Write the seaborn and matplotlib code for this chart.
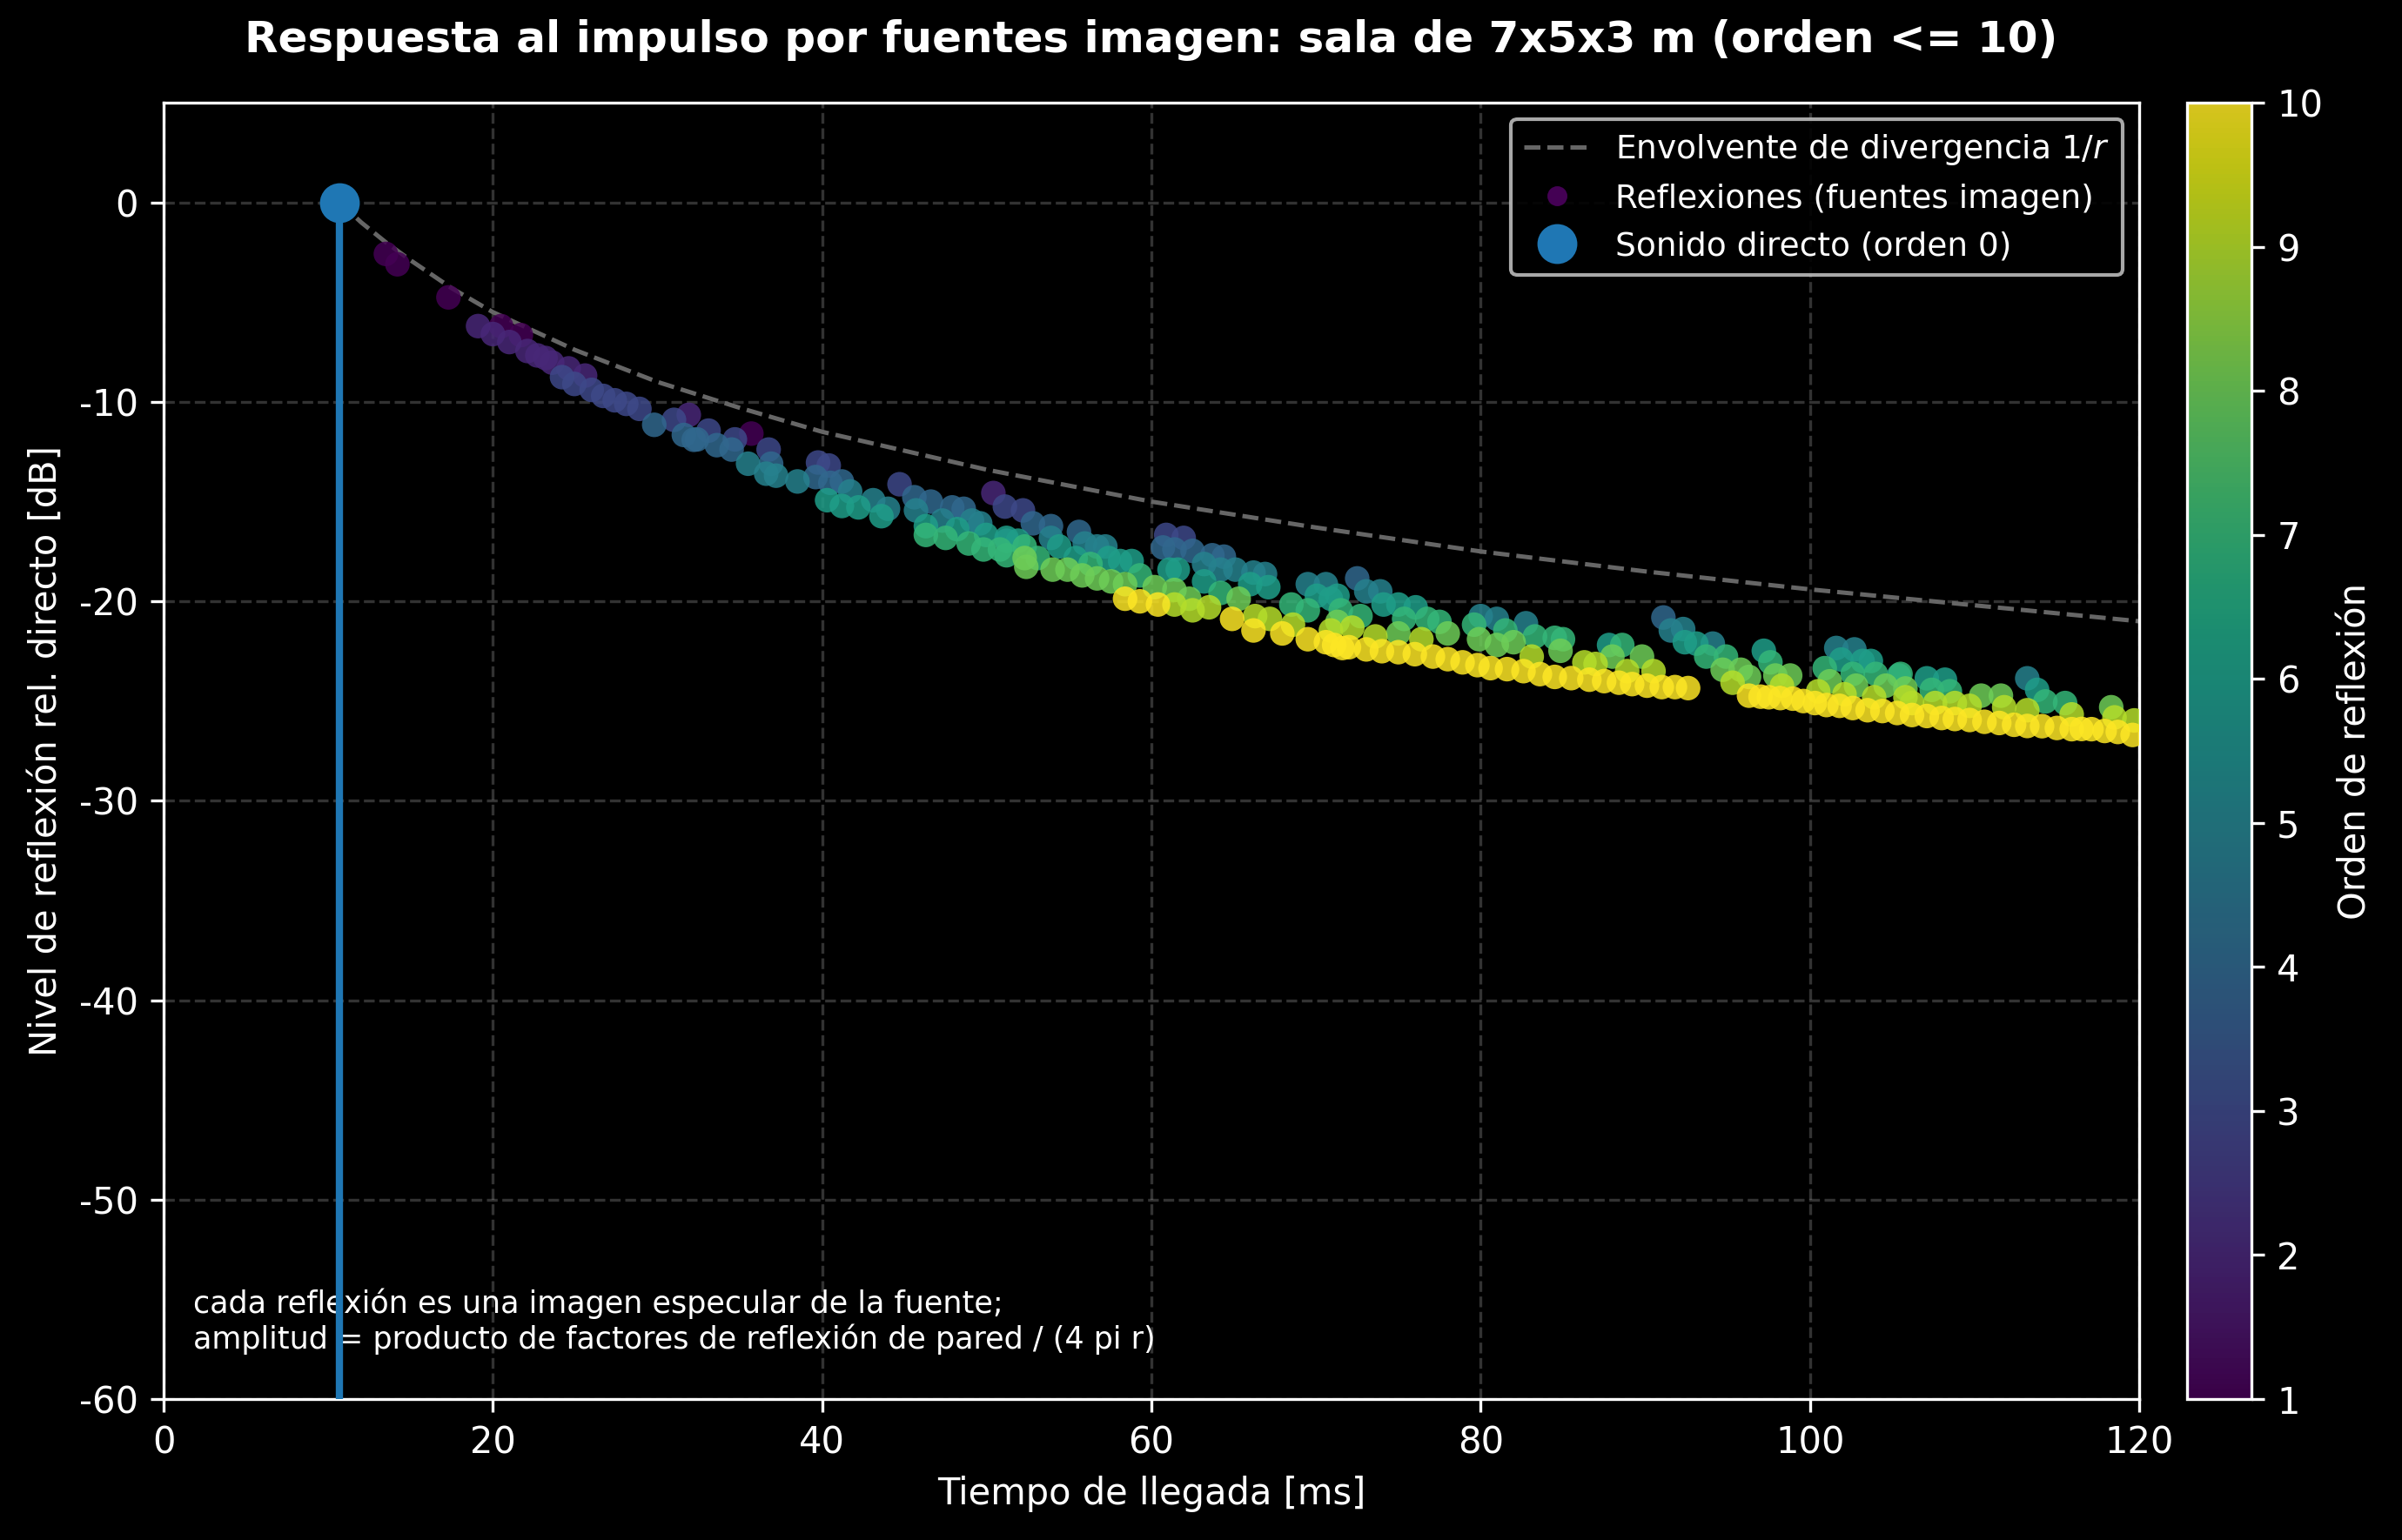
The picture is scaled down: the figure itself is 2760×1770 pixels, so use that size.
import numpy as np
import pandas as pd
import matplotlib
matplotlib.use("Agg")
import matplotlib.pyplot as plt
import seaborn as sns
from matplotlib.lines import Line2D

# direct sound
t_direct = 10.7
db_direct = 0.0

# 1/r envelope
env_t = [10.7, 12, 13.5, 15, 17.5, 20, 25, 30, 35, 40, 50, 60, 70, 80, 90, 100, 110, 120]
env_db = [0, -1.0, -2.0, -2.9, -4.3, -5.5, -7.4, -9.0, -10.3, -11.5, -13.4, -15.0,
          -16.3, -17.5, -18.5, -19.4, -20.2, -21.0]

# reflections, grouped by order: arrival time [ms], level [dB]
t_o1 = [13.5, 14.2, 17.3, 20.5, 21.7, 35.7]
db_o1 = [-2.58, -3.1, -4.76, -6.2, -6.65, -11.59]

t_o2 = [19.1, 20.0, 21.0, 22.1, 22.7, 23.2, 23.6, 24.6, 25.6, 31.9, 50.4]
db_o2 = [-6.2, -6.6, -7.0, -7.45, -7.67, -7.8, -8.03, -8.32, -8.68, -10.65, -14.57]

t_o3 = [24.2, 24.95, 26.0, 26.7, 27.4, 28.1, 28.9, 31.0, 33.1, 34.7, 36.75, 39.75,
        40.4, 44.7, 51.1, 52.2, 60.9, 61.96]
db_o3 = [-8.76, -9.1, -9.4, -9.7, -9.92, -10.1, -10.35, -10.9, -11.44, -11.88, -12.39, -13.04,
         -13.19, -14.13, -15.25, -15.44, -16.67, -16.82]

t_o4 = [29.8, 31.6, 32.2, 32.4, 33.6, 34.5, 36.9, 39.6, 40.5, 41.2, 45.6, 46.6, 47.9, 48.6,
        52.8, 53.9, 55.6, 60.7, 61.4, 62.5, 63.7, 64.4, 72.5, 91.1]
db_o4 = [-11.15, -11.66, -11.9, -11.88, -12.17, -12.39, -13.1, -13.77, -14.06, -13.99, -14.78, -15.0,
         -15.29, -15.36, -16.09, -16.23, -16.52, -17.3, -17.4, -17.47, -17.69, -17.76, -18.85, -20.81]

t_o5 = [35.5, 36.6, 37.2, 38.5, 41.7, 43.1, 44.0, 45.7, 47.3, 49.1, 49.6, 51.2, 53.9, 55.95,
        56.7, 57.2, 63.2, 64.2, 65.1, 66.2, 66.9, 69.5, 70.6, 73.05, 73.9, 80.0, 80.98, 82.75,
        91.55, 92.3, 94.1, 101.6, 102.7, 113.2]
db_o5 = [-13.1, -13.6, -13.7, -13.99, -14.49, -14.93, -15.36, -15.44, -15.95, -15.95, -16.09, -16.96,
         -16.82, -17.1, -17.25, -17.25, -18.13, -18.41, -18.41, -18.56, -18.63, -19.14, -19.14, -19.5,
         -19.5, -20.74, -20.88, -21.1, -21.46, -21.39, -22.12, -22.34, -22.41, -23.86]

t_o6 = [40.3, 41.2, 42.2, 43.6, 46.3, 48.2, 49.96, 51.2, 51.9, 54.4, 55.4, 57.4, 58.1, 58.8,
        61.1, 61.6, 63.2, 66.0, 67.1, 70.05, 70.9, 71.3, 74.1, 75.0, 76.05, 87.8, 92.4, 93.1,
        97.2, 101.9, 103.2, 103.7, 105.4, 107.1, 108.2, 113.8]
db_o6 = [-14.93, -15.22, -15.29, -15.73, -16.23, -16.38, -16.67, -16.82, -16.96, -17.25, -17.83, -17.83,
         -17.98, -17.98, -18.41, -18.41, -19.0, -19.14, -19.29, -19.72, -19.87, -19.72, -20.16, -20.16,
         -20.3, -22.19, -22.05, -22.12, -22.48, -22.92, -22.99, -22.99, -23.72, -23.86, -23.93, -24.44]

t_o7 = [46.3, 47.5, 48.9, 49.8, 50.8, 51.2, 52.3, 53.1, 56.3, 59.3, 64.2, 68.5, 69.5, 71.5,
        72.7, 75.35, 76.75, 77.5, 79.6, 81.5, 83.3, 84.5, 85.0, 88.6, 93.7, 94.9, 97.6, 100.9,
        102.6, 104.0, 105.5, 107.4, 108.5, 114.3, 115.5]
db_o7 = [-16.67, -16.82, -17.1, -17.4, -17.4, -17.69, -17.25, -17.83, -18.13, -18.7, -19.58, -20.16,
         -20.45, -20.45, -20.74, -20.88, -20.88, -21.03, -21.17, -21.46, -21.76, -21.83, -21.9, -22.19,
         -22.77, -22.77, -23.06, -23.35, -23.64, -23.64, -23.64, -24.44, -24.51, -25.02, -25.1]

t_o8 = [52.3, 52.4, 54.0, 54.9, 55.8, 56.7, 57.55, 58.4, 60.2, 61.4, 62.3, 65.3, 71.3, 75.0,
        78.0, 79.9, 80.98, 82.0, 84.85, 88.0, 89.8, 94.7, 95.8, 96.3, 97.9, 98.8, 101.2, 102.8,
        104.6, 105.8, 110.4, 111.6, 118.3]
db_o8 = [-17.83, -18.27, -18.41, -18.41, -18.7, -18.85, -19.0, -19.14, -19.29, -19.43, -19.87, -19.87,
         -21.03, -21.61, -21.61, -21.9, -22.19, -22.05, -22.48, -22.77, -22.77, -23.43, -23.43, -23.79,
         -23.72, -23.72, -24.01, -24.23, -24.23, -24.37, -24.73, -24.73, -25.31]

t_o9 = [61.4, 62.5, 63.5, 66.3, 67.2, 68.6, 70.9, 72.2, 73.6, 76.4, 83.1, 86.3, 86.98, 88.9,
        90.5, 95.3, 98.3, 100.5, 102.1, 103.9, 105.8, 106.2, 107.6, 108.8, 109.7, 111.8, 113.2,
        115.9, 118.5, 119.7]
db_o9 = [-20.16, -20.45, -20.3, -20.74, -20.88, -21.17, -21.46, -21.32, -21.76, -21.9, -22.77, -23.06,
         -23.14, -23.5, -23.5, -24.08, -24.23, -24.51, -24.66, -24.81, -24.81, -25.1, -25.1, -25.1,
         -25.24, -25.31, -25.46, -25.67, -25.82, -25.97]

t_o10 = [58.4, 59.3, 60.4, 64.9, 66.2, 67.95, 69.5, 70.6, 71.1, 71.6, 72.0, 73.05, 74.0, 75.0,
         76.0, 77.1, 78.0, 78.9, 79.8, 80.6, 81.6, 82.6, 83.6, 84.5, 85.5, 86.6, 87.5, 88.4,
         89.2, 90.1, 91.0, 91.8, 92.6, 96.3, 97.0, 97.5, 98.2, 98.96, 99.6, 100.3, 101.0, 101.8,
         102.6, 103.5, 104.4, 105.3, 106.2, 107.1, 108.0, 108.8, 109.7, 110.6, 111.5, 112.4,
         113.2, 114.1, 115.0, 115.9, 116.5, 117.1, 117.9, 118.7, 119.6]
db_o10 = [-19.87, -20.0, -20.16, -20.88, -21.46, -21.61, -21.9, -22.05, -22.19, -22.34, -22.3, -22.41,
          -22.5, -22.55, -22.65, -22.77, -22.9, -23.06, -23.2, -23.35, -23.4, -23.5, -23.65, -23.79,
          -23.85, -23.93, -24.0, -24.08, -24.15, -24.23, -24.3, -24.3, -24.35, -24.73, -24.78, -24.81,
          -24.85, -24.88, -25.0, -25.1, -25.2, -25.24, -25.35, -25.46, -25.5, -25.6, -25.7, -25.75,
          -25.85, -25.9, -25.95, -26.04, -26.1, -26.19, -26.25, -26.26, -26.35, -26.41, -26.4, -26.41,
          -26.5, -26.55, -26.7]

times = [t_o1, t_o2, t_o3, t_o4, t_o5, t_o6, t_o7, t_o8, t_o9, t_o10]
levels = [db_o1, db_o2, db_o3, db_o4, db_o5, db_o6, db_o7, db_o8, db_o9, db_o10]

rows = []
for k, (tt, dd) in enumerate(zip(times, levels), start=1):
    for t, d in zip(tt, dd):
        rows.append((t, d, k))
df = pd.DataFrame(rows, columns=["t", "db", "orden"])

plt.style.use("dark_background")
sns.set_style("dark", {"axes.facecolor": "black", "figure.facecolor": "black"})
plt.rcParams["font.family"] = ["DejaVu Sans"]
plt.rcParams["axes.unicode_minus"] = False
plt.rcParams["text.color"] = "white"
plt.rcParams["axes.labelcolor"] = "white"
plt.rcParams["xtick.color"] = "white"
plt.rcParams["ytick.color"] = "white"

fig = plt.figure(figsize=(9.203, 5.9), dpi=300, facecolor="black")
ax = fig.add_axes([0.0681, 0.0915, 0.8222, 0.8418])
cax = fig.add_axes([0.9102, 0.0915, 0.0268, 0.8418])
ax.set_facecolor("black")

env_color = "#666666"
sns.lineplot(x=env_t, y=env_db, ax=ax, color=env_color, lw=1.2, linestyle="--", zorder=2)

sns.scatterplot(data=df, x="t", y="db", hue="orden", palette="viridis", hue_norm=(1, 10),
                s=46, alpha=0.85, linewidth=0, edgecolor="none", legend=False, ax=ax, zorder=3)

ax.vlines(t_direct, -60, db_direct, color="#1f77b4", lw=2, zorder=4)
ax.plot([t_direct], [db_direct], "o", color="#1f77b4", ms=10, zorder=5)

ax.set_xlim(0, 120)
ax.set_ylim(-60, 5)
ax.set_xticks([0, 20, 40, 60, 80, 100, 120])
ax.set_yticks([0, -10, -20, -30, -40, -50, -60])
ax.grid(True, linestyle="--", color="white", alpha=0.2, lw=0.8)
for sp in ax.spines.values():
    sp.set_color("white")
    sp.set_linewidth(0.8)
ax.tick_params(colors="white", labelsize=10, length=3.5, width=0.8, left=True, bottom=True)

ax.set_xlabel("Tiempo de llegada [ms]", fontsize=10)
ax.set_ylabel("Nivel de reflexión rel. directo [dB]", fontsize=10)
ax.set_title("Respuesta al impulso por fuentes imagen: sala de 7x5x3 m (orden <= 10)",
             fontsize=12, fontweight="bold", pad=14)

ax.text(0.015, 0.034,
        "cada reflexión es una imagen especular de la fuente;\n"
        "amplitud = producto de factores de reflexión de pared / (4 pi r)",
        transform=ax.transAxes, fontsize=8.4, color="white", va="bottom", ha="left")

cmap = plt.get_cmap("viridis")
handles = [
    Line2D([], [], color=env_color, lw=1.2, linestyle="--"),
    Line2D([], [], marker="o", color=cmap(0.0), linestyle="none", markersize=4.5),
    Line2D([], [], marker="o", color="#1f77b4", linestyle="none", markersize=10),
]
labels = ["Envolvente de divergencia 1/$r$", "Reflexiones (fuentes imagen)", "Sonido directo (orden 0)"]
leg = ax.legend(handles, labels, loc="upper right", fontsize=9, facecolor="black",
                edgecolor="#bbbbbb", framealpha=0.9)
for txt in leg.get_texts():
    txt.set_color("white")

sm = plt.cm.ScalarMappable(cmap="viridis", norm=plt.Normalize(1, 10))
cb = fig.colorbar(sm, cax=cax, alpha=0.85)
cb.set_ticks(range(1, 11))
cb.set_label("Orden de reflexión", fontsize=10, color="white")
cb.ax.tick_params(colors="white", labelsize=10, length=3.5, width=0.8)
cb.outline.set_edgecolor("white")
cb.outline.set_linewidth(0.8)

fig.savefig("out.png", dpi=300, facecolor="black")
